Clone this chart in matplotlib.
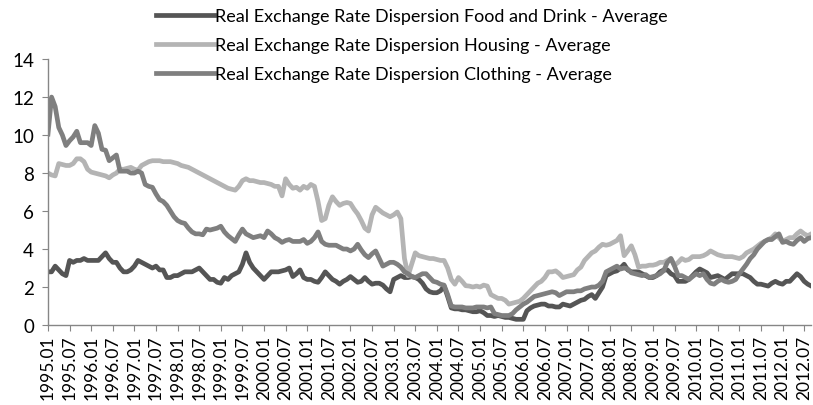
import numpy as np
import matplotlib
matplotlib.use("Agg")
import matplotlib.pyplot as plt

# monthly averages, 1995.01 - 2012.09
food = [
    2.8, 2.8, 3.1, 2.9, 2.7, 2.6, 3.4, 3.3, 3.4, 3.4, 3.5, 3.4,      # 1995
    3.4, 3.4, 3.4, 3.6, 3.8, 3.5, 3.3, 3.3, 3.0, 2.8, 2.8, 2.9,      # 1996
    3.1, 3.4, 3.3, 3.2, 3.1, 3.0, 3.1, 2.9, 2.9, 2.5, 2.5, 2.6,      # 1997
    2.6, 2.7, 2.8, 2.8, 2.8, 2.9, 3.0, 2.8, 2.6, 2.4, 2.4, 2.25,     # 1998
    2.2, 2.5, 2.4, 2.6, 2.7, 2.8, 3.2, 3.8, 3.3, 3.0, 2.8, 2.6,      # 1999
    2.4, 2.6, 2.8, 2.8, 2.8, 2.85, 2.9, 3.0, 2.55, 2.7, 2.9, 2.5,    # 2000
    2.4, 2.4, 2.3, 2.25, 2.5, 2.8, 2.6, 2.4, 2.3, 2.15, 2.3, 2.4,    # 2001
    2.55, 2.4, 2.25, 2.3, 2.5, 2.3, 2.15, 2.2, 2.2, 2.1, 1.9, 1.75,  # 2002
    2.4, 2.5, 2.6, 2.5, 2.5, 2.55, 2.5, 2.4, 2.2, 1.9, 1.75, 1.7,    # 2003
    1.7, 1.8, 2.05, 1.5, 0.9, 0.85, 0.85, 0.8, 0.8, 0.75, 0.7, 0.7,  # 2004
    0.75, 0.65, 0.5, 0.5, 0.45, 0.5, 0.45, 0.4, 0.4, 0.35, 0.3, 0.3, # 2005
    0.3, 0.75, 0.9, 1.0, 1.05, 1.1, 1.1, 1.0, 1.0, 0.95, 0.95, 1.1,  # 2006
    1.05, 1.0, 1.1, 1.2, 1.3, 1.35, 1.5, 1.6, 1.4, 1.7, 2.0, 2.6,    # 2007
    2.7, 2.8, 2.85, 3.0, 3.2, 2.9, 2.8, 2.8, 2.8, 2.7, 2.6, 2.5,     # 2008
    2.5, 2.6, 2.8, 2.9, 2.9, 2.7, 2.6, 2.3, 2.3, 2.3, 2.4, 2.6,      # 2009
    2.8, 2.95, 2.85, 2.75, 2.5, 2.55, 2.6, 2.5, 2.4, 2.55, 2.7, 2.7, # 2010
    2.7, 2.7, 2.6, 2.5, 2.3, 2.15, 2.15, 2.1, 2.05, 2.2, 2.3, 2.2,   # 2011
    2.15, 2.3, 2.3, 2.5, 2.7, 2.55, 2.3, 2.15, 2.05,                 # 2012
]
housing = [
    8.0, 7.9, 7.85, 8.5, 8.45, 8.4, 8.4, 8.5, 8.75, 8.75, 8.6, 8.2,
    8.05, 8.0, 7.95, 7.9, 7.85, 7.75, 7.9, 8.0, 8.2, 8.2, 8.25, 8.3,
    8.2, 8.15, 8.4, 8.5, 8.6, 8.65, 8.65, 8.65, 8.6, 8.6, 8.6, 8.55,
    8.5, 8.4, 8.35, 8.3, 8.2, 8.1, 8.0, 7.9, 7.8, 7.7, 7.6, 7.5,
    7.4, 7.3, 7.2, 7.15, 7.1, 7.3, 7.6, 7.7, 7.6, 7.6, 7.55, 7.5,
    7.5, 7.45, 7.4, 7.3, 7.3, 6.8, 7.7, 7.4, 7.2, 7.25, 7.1, 7.3,
    7.2, 7.4, 7.3, 6.5, 5.5, 5.6, 6.3, 6.75, 6.5, 6.3, 6.4, 6.45,
    6.4, 6.1, 5.85, 5.5, 5.1, 4.95, 5.8, 6.2, 6.05, 5.9, 5.8, 5.7,
    5.8, 5.95, 5.6, 3.5, 2.6, 3.2, 3.8, 3.65, 3.6, 3.55, 3.5, 3.5,
    3.45, 3.4, 3.4, 3.0, 2.4, 2.15, 2.5, 2.3, 2.07, 2.05, 2.0, 2.05,
    2.0, 2.1, 2.05, 1.6, 1.5, 1.4, 1.4, 1.3, 1.1, 1.15, 1.2, 1.25,
    1.4, 1.6, 1.8, 2.0, 2.2, 2.3, 2.5, 2.8, 2.8, 2.85, 2.7, 2.5,
    2.55, 2.6, 2.65, 2.9, 3.05, 3.4, 3.6, 3.8, 3.9, 4.1, 4.25, 4.2,
    4.25, 4.35, 4.45, 4.7, 3.65, 3.9, 4.17, 3.7, 3.05, 3.1, 3.1, 3.15,
    3.15, 3.2, 3.3, 3.3, 3.4, 3.5, 3.15, 3.3, 3.5, 3.4, 3.45, 3.6,
    3.6, 3.6, 3.65, 3.75, 3.9, 3.8, 3.7, 3.65, 3.6, 3.6, 3.6, 3.55,
    3.5, 3.6, 3.8, 3.9, 4.0, 4.15, 4.3, 4.4, 4.5, 4.6, 4.8, 4.6,
    4.4, 4.5, 4.6, 4.6, 4.8, 4.95, 4.8, 4.7, 4.8,
]
clothing = [
    10.05, 12.0, 11.5, 10.4, 10.0, 9.45, 9.7, 9.9, 10.2, 9.6, 9.6, 9.6,
    9.45, 10.5, 10.1, 9.25, 9.2, 8.65, 8.8, 8.95, 8.1, 8.1, 8.1, 8.0,
    8.0, 8.1, 8.0, 7.4, 7.3, 7.25, 6.9, 6.6, 6.5, 6.3, 6.0, 5.7,
    5.5, 5.4, 5.35, 5.1, 4.9, 4.8, 4.8, 4.75, 5.05, 5.0, 5.05, 5.1,
    5.2, 4.9, 4.7, 4.55, 4.4, 4.75, 5.05, 4.8, 4.7, 4.6, 4.65, 4.7,
    4.6, 4.95, 4.8, 4.6, 4.5, 4.35, 4.45, 4.5, 4.4, 4.4, 4.4, 4.5,
    4.3, 4.4, 4.6, 4.9, 4.4, 4.25, 4.2, 4.2, 4.2, 4.1, 4.0, 4.0,
    3.9, 4.0, 4.25, 3.95, 3.7, 3.55, 3.75, 3.9, 3.5, 3.1, 3.2, 3.3,
    3.3, 3.2, 3.05, 2.8, 2.7, 2.55, 2.5, 2.6, 2.7, 2.7, 2.5, 2.3,
    2.25, 2.15, 2.1, 1.6, 1.0, 0.95, 0.95, 0.95, 0.9, 0.9, 0.9, 0.95,
    0.95, 0.95, 0.9, 0.95, 0.6, 0.55, 0.5, 0.5, 0.5, 0.6, 0.8, 0.95,
    1.1, 1.2, 1.35, 1.5, 1.55, 1.6, 1.65, 1.7, 1.75, 1.7, 1.55, 1.65,
    1.75, 1.75, 1.75, 1.8, 1.8, 1.9, 1.95, 2.0, 2.0, 2.1, 2.3, 2.8,
    2.9, 3.0, 3.1, 2.95, 3.0, 2.95, 2.75, 2.7, 2.65, 2.6, 2.65, 2.5,
    2.55, 2.6, 2.7, 2.86, 3.3, 3.5, 3.1, 2.6, 2.6, 2.5, 2.4, 2.55,
    2.7, 2.6, 2.7, 2.4, 2.2, 2.15, 2.3, 2.4, 2.3, 2.25, 2.3, 2.4,
    2.7, 2.95, 3.2, 3.5, 3.7, 4.0, 4.2, 4.4, 4.5, 4.5, 4.65, 4.8,
    4.35, 4.4, 4.3, 4.25, 4.45, 4.6, 4.4, 4.55, 4.6,
]

labels = ["Real Exchange Rate Dispersion Food and Drink - Average",
          "Real Exchange Rate Dispersion Housing - Average",
          "Real Exchange Rate Dispersion Clothing - Average"]
tick_labels = ["%d.%s" % (y, m) for y in range(1995, 2013) for m in ("01", "07")]

plt.rcParams['font.family'] = ['Lato', 'DejaVu Sans']

fig = plt.figure(figsize=(8.13, 4.06), dpi=100)
ax = fig.add_axes([0.059, 0.197, 0.939, 0.655])

x = np.arange(len(food))
ax.plot(x, food, color='#555555', lw=3.4, label=labels[0], solid_joinstyle='round')
ax.plot(x, housing, color='#b4b4b4', lw=3.4, label=labels[1], solid_joinstyle='round')
ax.plot(x, clothing, color='#7f7f7f', lw=3.4, label=labels[2], solid_joinstyle='round')

ax.set_xlim(0, len(food) - 1)
ax.set_ylim(0, 14)
ax.set_yticks(range(0, 15, 2))
ax.set_xticks(np.arange(len(tick_labels)) * 6)
ax.set_xticklabels(tick_labels, rotation=90, fontsize=12.5)
ax.set_yticklabels([str(v) for v in range(0, 15, 2)], fontsize=13.5)

for s in ('top', 'right'):
    ax.spines[s].set_visible(False)
for s in ('left', 'bottom'):
    ax.spines[s].set_color('#868686')
    ax.spines[s].set_linewidth(1.0)
ax.tick_params(axis='both', colors='#868686', length=4, labelcolor='black')
ax.tick_params(axis='x', pad=3)
ax.tick_params(axis='y', pad=6)

fig.legend(loc='center', bbox_to_anchor=(412 / 813, 1 - 46 / 406), frameon=False,
           fontsize=13, handlelength=3.2, handletextpad=0.1, labelspacing=0.72)

fig.savefig("out.png", dpi=100)
